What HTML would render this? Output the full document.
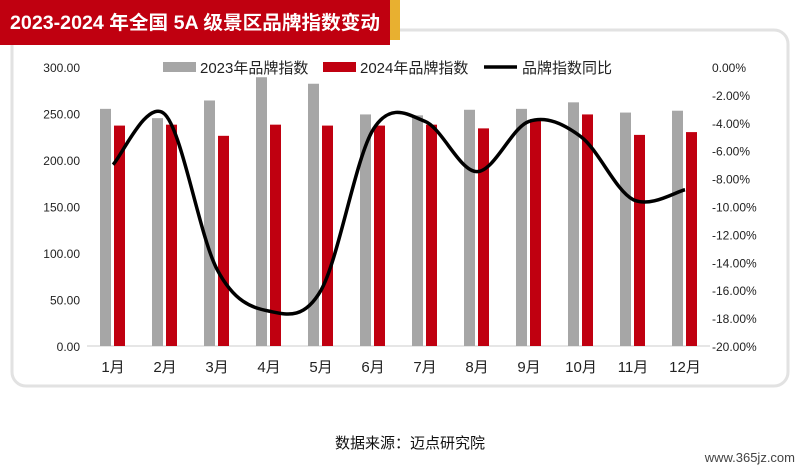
<!DOCTYPE html>
<html><head><meta charset="utf-8"><style>
body{margin:0;width:800px;height:471px;background:#fff;overflow:hidden;font-family:"Liberation Sans","Noto Sans CJK SC",sans-serif}
</style></head><body>
<svg id="s" width="800" height="471" xmlns="http://www.w3.org/2000/svg" font-family="Liberation Sans, Noto Sans CJK SC, sans-serif">
<rect x="0" y="0" width="800" height="471" fill="#fff"/>
<rect x="12" y="30" width="776" height="356" rx="14" fill="#fff" stroke="#e2e2e2" stroke-width="3"/>
<polygon points="375,0 400,0 400,40 380,40" fill="#e8b030"/>
<polygon points="0,0 390,0 390,45 0,45" fill="#c00010"/>
<text x="10" y="29" fill="#fff" font-size="19" font-weight="bold" textLength="370" lengthAdjust="spacingAndGlyphs">2023-2024 年全国 5A 级景区品牌指数变动</text>
<g id="g"></g>
<text x="410" y="448" text-anchor="middle" font-size="15" fill="#111">数据来源：迈点研究院</text>
<text x="795" y="462" text-anchor="end" font-size="13" fill="#444">www.365jz.com</text>
</svg>
<script>
var g=document.getElementById('g'),h='';
var y0=346,ppu=279/300;
for(var i=0;i<=6;i++){var y=y0-i*46.5;h+='<text x="80" y="'+(y+5)+'" text-anchor="end" font-size="12" fill="#222">'+(i*50).toFixed(2)+'</text>';}
for(var k=0;k<=10;k++){var y=67+k*27.9;h+='<text x="712" y="'+(y+5)+'" font-size="12" fill="#222">'+(k==0?'0.00%':'-'+(2*k).toFixed(2)+'%')+'</text>';}
h+='<line x1="87" y1="346" x2="710" y2="346" stroke="#ccc"/>';
var a=[255,245,264,289,282,249,248,254,255,262,251,253],b=[237,238,226,238,237,237,238,234,244,249,227,230];
var l=[-7.0,-3.4,-14.5,-17.5,-16,-4.5,-3.9,-7.5,-3.9,-5,-9.5,-8.8];
var pts=[];
for(var i=0;i<12;i++){var c=113+i*52;
h+='<rect x="'+(c-13)+'" y="'+(y0-a[i]*ppu)+'" width="11" height="'+(a[i]*ppu)+'" fill="#a6a6a6"/>';
h+='<rect x="'+(c+1)+'" y="'+(y0-b[i]*ppu)+'" width="11" height="'+(b[i]*ppu)+'" fill="#c00010"/>';
h+='<text x="'+c+'" y="372" text-anchor="middle" font-size="15" fill="#222">'+(i+1)+'月</text>';
pts.push([c,67-l[i]/2*27.9]);}
var d='M'+pts[0];
for(var i=0;i<11;i++){var p0=pts[Math.max(i-1,0)],p1=pts[i],p2=pts[i+1],p3=pts[Math.min(i+2,11)];
d+=' C'+(p1[0]+(p2[0]-p0[0])/6)+','+(p1[1]+(p2[1]-p0[1])/6)+' '+(p2[0]-(p3[0]-p1[0])/6)+','+(p2[1]-(p3[1]-p1[1])/6)+' '+p2;}
h+='<path d="'+d+'" fill="none" stroke="#000" stroke-width="3.5"/>';
h+='<rect x="163" y="62" width="33" height="10" fill="#a6a6a6"/><text x="200" y="73" font-size="15" fill="#222">2023年品牌指数</text>';
h+='<rect x="323" y="62" width="33" height="10" fill="#c00010"/><text x="360" y="73" font-size="15" fill="#222">2024年品牌指数</text>';
h+='<line x1="484" y1="67" x2="517" y2="67" stroke="#000" stroke-width="3.5"/><text x="522" y="73" font-size="15" fill="#222">品牌指数同比</text>';
g.innerHTML=h;
</script>
</body></html>
